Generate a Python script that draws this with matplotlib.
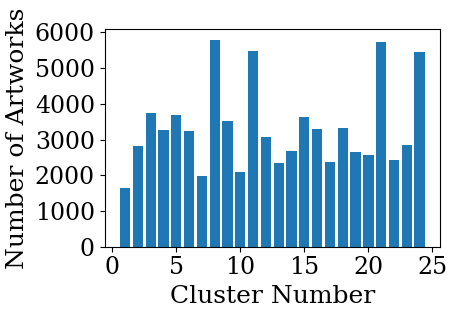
import matplotlib
matplotlib.use("Agg")
import matplotlib.pyplot as plt

clusters = list(range(1, 25))
counts = [1630, 2830, 3750, 3270, 3690, 3250, 1990, 5790, 3530, 2100, 5480, 3080,
          2330, 2690, 3640, 3300, 2380, 3330, 2660, 2580, 5730, 2440, 2860, 5450]

plt.rcParams['font.family'] = ['DejaVu Serif']
plt.rcParams['font.size'] = 18

fig = plt.figure(figsize=(4.55, 3.10), dpi=100)
ax = fig.add_axes([0.230, 0.204, 0.737, 0.701])
ax.bar(clusters, counts, color='#1f77b4')
ax.set_xlabel('Cluster Number', fontsize=18)
ax.set_ylabel('Number of Artworks', fontsize=18)
ax.set_xticks([0, 5, 10, 15, 20, 25])
ax.set_yticks([0, 1000, 2000, 3000, 4000, 5000, 6000])
ax.tick_params(labelsize=17)
fig.savefig('out.png', dpi=100)
